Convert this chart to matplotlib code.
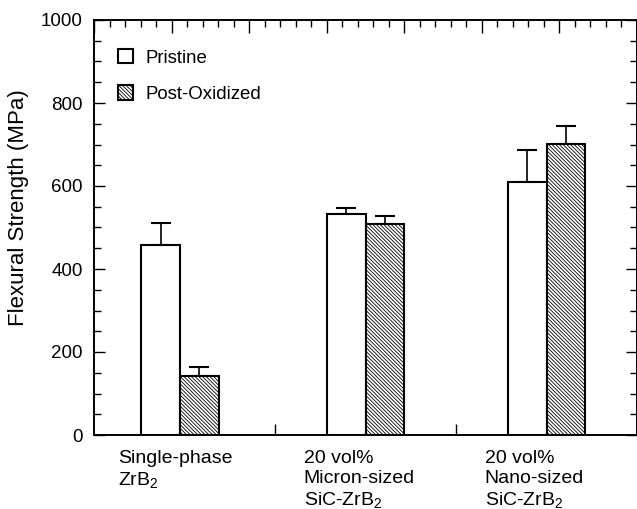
import numpy as np
import matplotlib
matplotlib.use("Agg")
import matplotlib.pyplot as plt
import matplotlib.transforms as mtransforms
from matplotlib.ticker import MultipleLocator, FixedLocator, NullFormatter

plt.rcParams['font.family'] = ['Liberation Sans', 'DejaVu Sans']
plt.rcParams['mathtext.fontset'] = 'custom'
plt.rcParams['mathtext.rm'] = 'Liberation Sans'
plt.rcParams['mathtext.default'] = 'regular'
plt.rcParams['hatch.linewidth'] = 0.6

groups = ["Single-phase\nZrB$_2$",
          "20 vol%\nMicron-sized\nSiC-ZrB$_2$",
          "20 vol%\nNano-sized\nSiC-ZrB$_2$"]
pristine = [459, 533, 610]
pristine_err = [53, 13, 77]
oxidized = [141, 508, 701]
oxidized_err = [23, 20, 44]

centers = np.array([0.475, 1.5, 2.5])
w = 0.213

fig = plt.figure(figsize=(6.37, 5.09), dpi=100)
ax = fig.add_axes([94 / 637, 74 / 509, 543 / 637, 415 / 509])

ax.bar(centers - w / 2, pristine, w, color='white', edgecolor='black', lw=1.5,
       label='Pristine', zorder=2)
ax.bar(centers + w / 2, oxidized, w, color='white', edgecolor='black', lw=1.5,
       hatch='\\' * 9, label='Post-Oxidized', zorder=2)
ax.errorbar(centers - w / 2, pristine, yerr=[np.zeros(3), pristine_err], fmt='none',
            ecolor='black', elinewidth=1.2, capsize=7.5, capthick=1.5, zorder=1)
ax.errorbar(centers + w / 2, oxidized, yerr=[np.zeros(3), oxidized_err], fmt='none',
            ecolor='black', elinewidth=1.2, capsize=7.5, capthick=1.5, zorder=1)

ax.set_xlim(0, 3)
ax.set_ylim(0, 1000)
ax.yaxis.set_major_locator(MultipleLocator(200))
ax.yaxis.set_minor_locator(MultipleLocator(50))
ax.xaxis.set_major_locator(FixedLocator([1, 2]))
ax.xaxis.set_major_formatter(NullFormatter())
ax.tick_params(axis='both', which='major', direction='in', length=8, width=1,
               labelsize=13.5, pad=8, right=True)
ax.tick_params(axis='y', which='minor', direction='in', length=5, width=1, right=True)

top = ax.twiny()
top.set_xlim(0, 7)
top.xaxis.set_major_locator(MultipleLocator(1))
top.xaxis.set_minor_locator(MultipleLocator(0.2))
top.xaxis.set_major_formatter(NullFormatter())
top.tick_params(axis='x', which='major', direction='in', length=9, width=1)
top.tick_params(axis='x', which='minor', direction='in', length=5, width=1)

for sp in list(ax.spines.values()) + list(top.spines.values()):
    sp.set_linewidth(1.2)

# y label sits a bit above the axis centre in the original
fig.text(19 / 637, 1 - 208 / 509, "Flexural Strength (MPa)", rotation=90,
         ha='center', va='center', fontsize=16)

trans = mtransforms.blended_transform_factory(ax.transData, ax.transAxes)
for c, g in zip(centers, groups):
    ax.text(c - 0.342, -0.036, g, transform=trans, ha='left', va='top',
            fontsize=14, linespacing=1.22)

ax.legend(loc='upper left', bbox_to_anchor=(0.013, 0.97), frameon=False,
          fontsize=13.4, handlelength=0.8, handleheight=0.8, handletextpad=0.7,
          labelspacing=1.0)

fig.savefig("out.png", dpi=100)
